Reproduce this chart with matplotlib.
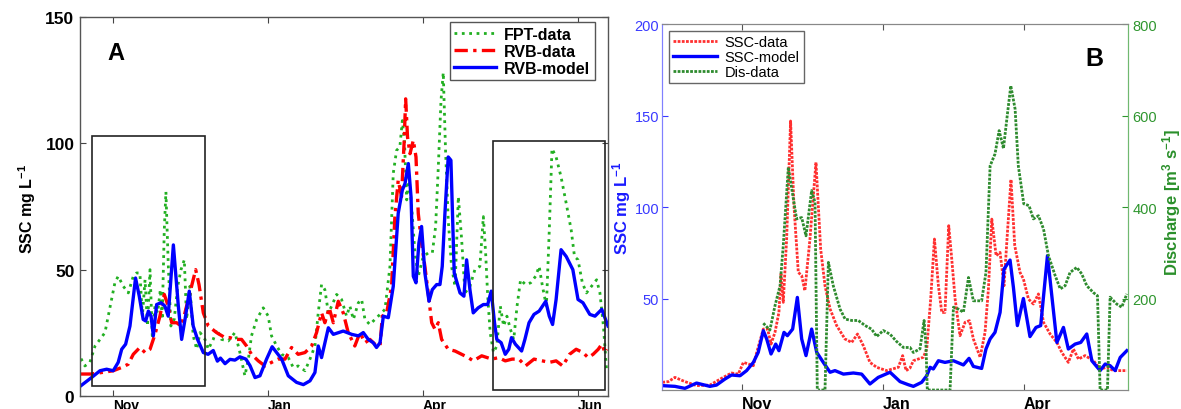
import matplotlib.pyplot as plt
from matplotlib.patches import Rectangle

plt.rcParams['font.family'] = ['Liberation Sans', 'DejaVu Sans']
plt.rcParams['mathtext.default'] = 'regular'

# ---- panel A: SSC (mg/L) against day of record ----
fpt_data = [(0.5, 14.8), (2.4, 11.9), (4.8, 13.3), (7.3, 19.8), (9.7, 22.4), (12.1, 25.1), (13.7, 31.6),
            (15.3, 38.2), (16.9, 44.8), (18.5, 47.4), (21, 43.4), (23.4, 40.8), (25.8, 47.4), (27.4, 48.7),
            (29, 48.7), (30.2, 31.6), (31.5, 46), (32.7, 27.7), (33.9, 50), (35, 23.8), (36.3, 35.6),
            (37.6, 32.9), (38.9, 42.1), (39.8, 30.3), (40.8, 65.7), (41.6, 80.8), (42.7, 52.6), (44, 27.7),
            (45.6, 30.3), (47.3, 43.4), (48.9, 50), (50.5, 53.9), (51.6, 30.3), (53.2, 43.4), (54.8, 23.8),
            (56.5, 18.5), (58.1, 25.1), (60.5, 22.4), (62.1, 18.5), (64.5, 22.4), (66.1, 26.4), (68.5, 22.4),
            (71.8, 21.8), (75, 25.1), (77.4, 17.2), (79.8, 8), (81.5, 14.6), (83, 23.8), (85.5, 30.3),
            (88.7, 34.9), (91.1, 31.6), (92.7, 23.8), (95.2, 19.8), (97.6, 16.5), (100.8, 15.2), (103.2, 11.3),
            (105.6, 11.9), (108.9, 10), (111.3, 14.6), (113.7, 19.8), (115.3, 32.9), (116.9, 44.1),
            (118.5, 42.1), (120.2, 32.9), (121.8, 35.6), (124.2, 40.2), (126.6, 38.2), (129, 31.6),
            (130.6, 35.6), (132.3, 30.3), (134.7, 36.9), (136.3, 38.2), (137.9, 30.3), (140.3, 28.3),
            (142.7, 30.3), (145.2, 32.3), (147.6, 34.3), (150, 51.3), (151.6, 88.1), (153.2, 97.2),
            (154.8, 98.6), (156, 109), (157, 101.2), (158.1, 77.6), (159.2, 86.7), (160.5, 74.9),
            (162.1, 56.6), (163.7, 47.4), (166.1, 55.2), (168.5, 56.6), (170.5, 56.6), (172.1, 67.1),
            (173.4, 90.7), (174.7, 116.9), (175.8, 128), (176.9, 97.2), (178.2, 69.7), (179.8, 51.3),
            (181.5, 43.4), (183.1, 78.9), (184.7, 61.8), (186.3, 40.8), (188.7, 43.4), (191.1, 50),
            (193.5, 51.3), (195.2, 71), (196.3, 56.6), (197.3, 39.5), (198.5, 25.1), (200.1, 17.2),
            (201.7, 19.8), (203.4, 35.6), (205, 27.7), (206.6, 31.6), (208.3, 26.4), (209.9, 22.4),
            (211.5, 35.6), (213.2, 46), (215.6, 44.1), (218.1, 44.8), (220.5, 47.4), (222.2, 51.3),
            (223.8, 43.4), (225.7, 35.6), (227.1, 65.7), (228.4, 97.9), (230.4, 94.6), (232.8, 86.7),
            (235.3, 76.2), (237.7, 65.7), (239.3, 55.2), (241, 53.9), (243.1, 44.8), (245.1, 40.8),
            (247.5, 43.4), (250, 46), (251.6, 40.8), (253.3, 27.7), (254.9, 9.3)]

rvb_data = [(0.5, 8.7), (5.6, 8.7), (10.5, 9.3), (16.1, 10), (20.2, 11.3), (23.4, 12.6), (25.8, 16.5),
            (29, 19.2), (31.5, 17.2), (33.9, 18.5), (36.3, 24.4), (38.7, 31.6), (40.8, 40.2), (42.7, 35.6),
            (44.4, 29), (46.8, 29), (48.9, 27.7), (50.8, 32.9), (53.2, 40.8), (56, 50), (57.6, 44.1),
            (59.7, 32.9), (62.1, 27.7), (66.1, 25.1), (70.2, 23.1), (72.6, 23.1), (75, 22.4), (78.2, 22.4),
            (80.6, 19.8), (83, 16.5), (86.3, 13.9), (89.5, 11.9), (92.7, 13.3), (95.8, 14.6), (99.2, 14.6),
            (102.4, 19.2), (105.6, 16.5), (108.9, 17.2), (112.1, 19.8), (114.5, 25.1), (116.9, 32.9),
            (118.5, 29), (120.6, 34.9), (122.6, 29), (125, 37.5), (127.4, 32.9), (129.8, 25.1), (133, 19.8),
            (135.5, 25.1), (137.9, 21.1), (140.3, 22.4), (142.7, 20.5), (145.2, 19.8), (146.3, 31.6),
            (148.4, 32.9), (150.8, 43.4), (152.4, 71), (154, 85.4), (155.6, 78.9), (156.9, 101.2),
            (157.6, 117.6), (158.5, 102.5), (159.7, 95.9), (161.3, 101.2), (162.6, 94.6), (163.7, 72.3),
            (165.3, 60.5), (166.9, 51.3), (168.5, 40.8), (170.2, 29), (171.8, 26.4), (173.4, 29), (175, 22.4),
            (178.2, 18.5), (181.5, 17.8), (184.7, 16.5), (187.9, 15.2), (190.3, 13.9), (194.4, 15.9),
            (199.3, 14.6), (202.6, 15.2), (205.8, 13.9), (209.1, 14.6), (212.4, 14.6), (215.6, 11.9),
            (219.7, 14.6), (223.8, 13.9), (227.1, 13.3), (230.4, 13.9), (233.6, 11.9), (236.9, 16.5),
            (240.1, 18.5), (243.4, 17.2), (245.9, 15.2), (248.3, 16.5), (250.8, 18.5), (252.5, 20.5),
            (254.1, 17.2), (255, 18.5)]

rvb_model = [(0.5, 4.1), (5.6, 7.3), (9.7, 10), (12.9, 10.6), (16.1, 10), (18.5, 13.3), (20.2, 18.5),
             (22.1, 20.5), (24.2, 27.7), (26.9, 46.7), (28.7, 39.5), (30.6, 30.3), (31.8, 29.7), (33.1, 33.6),
             (34.4, 31.6), (35.5, 23.8), (37.1, 36.2), (39.2, 36.9), (41.1, 35.6), (42.7, 31.6), (45.2, 59.8),
             (47.6, 35.6), (49.2, 22.4), (51.1, 31.6), (52.9, 41.5), (54.8, 27.7), (56.9, 22.4), (59.7, 17.2),
             (62, 16.5), (64.5, 18), (66.5, 13.8), (68, 15), (70.2, 12.8), (72.6, 14.5), (75, 14.2),
             (77.4, 15.5), (80.3, 14.6), (82.3, 12), (84.7, 7.3), (87.1, 8), (90.3, 14.6), (93, 19.5),
             (97.6, 14.6), (100.8, 8), (104.8, 5.4), (108.1, 4.5), (111.3, 6), (113.7, 9.3), (115.3, 19.8),
             (116.9, 15.2), (120.2, 27), (122.6, 24.4), (127.4, 25.7), (131.5, 24.4), (134.7, 23.8),
             (137.1, 25.1), (139.5, 22.4), (141.9, 21.1), (143.5, 19.2), (145.2, 21.1), (146.8, 31.6),
             (149.2, 31), (151.6, 43.4), (154, 72.3), (156, 81.5), (157.3, 84.1), (158.9, 92), (160.2, 78.9),
             (161.3, 47.4), (162.6, 44.8), (164, 60.5), (165.3, 67.1), (166.9, 48.7), (168.9, 37.5),
             (170.5, 42.1), (172.6, 44.1), (174.2, 44.1), (175.3, 51.3), (176.6, 72.3), (178.2, 94.6),
             (179.5, 93.3), (181.1, 48.7), (183.9, 40.8), (185.8, 39.5), (187.1, 53.9), (188.7, 42.1),
             (190.3, 32.9), (192.7, 34.9), (195.2, 36.2), (197.3, 36.2), (199, 41.5), (200.6, 29),
             (201.7, 22.4), (203.8, 21.1), (205.8, 16.5), (207.5, 18.5), (208.8, 23.1), (210.7, 20.5),
             (213.7, 17.8), (215.3, 22.4), (217.3, 29), (219.7, 32.3), (222.2, 33.6), (225.4, 37.5),
             (227.1, 31.6), (228.7, 28.3), (230.4, 38.2), (232.8, 57.9), (235.3, 55.2), (238.5, 50),
             (241, 38.2), (243.4, 36.9), (246.7, 32.3), (249.2, 31.6), (252.5, 34.3), (255.5, 27.7)]

a_ticks = [16, 91, 166, 241]
a_ticklabels = ['Nov', 'Jan', 'Apr', 'Jun']
# highlighted periods: (start day, end day, low, high)
a_boxes = [(6, 60.5, 4.1, 102.9), (200, 254, 2.5, 101)]

# ---- panel B: SSC (left axis) and discharge (right axis) ----
ssc_data = [(0.2, 4.2), (3.4, 4.6), (6.9, 6.9), (12.2, 4.6), (18.4, 2.4), (25.5, 2.7), (31.7, 6.4), (37, 9.3),
            (40.6, 8.7), (43.3, 15.1), (46, 14.2), (48.6, 13.3), (50.4, 20.6), (53.9, 33.3), (56.2, 33.3),
            (58, 25.1), (60.1, 31.5), (62.2, 42.4), (63.3, 63.4), (64.5, 47.9), (66.3, 82.5), (68.4, 147),
            (70.2, 100.7), (72.5, 64.3), (74.3, 62.5), (76, 54.3), (78.7, 82.5), (81.9, 124.4), (84.4, 77),
            (86.7, 57), (89.4, 44.3), (92.9, 35.2), (97.3, 27.9), (100.9, 26), (104, 30.6), (107.1, 24.2),
            (110.6, 15.1), (114.2, 12.4), (119.5, 10.6), (125.7, 12.4), (128, 18.8), (129.8, 10.6), (131.9, 12),
            (133.7, 16), (139, 17.9), (140.8, 22.4), (142.9, 49.7), (144.9, 82.5), (147, 57), (148.8, 42.4),
            (150.5, 42.4), (152.5, 89.8), (154.1, 71.6), (155.9, 49.7), (158.5, 29.7), (161.2, 37),
            (163.5, 37.9), (165.6, 27.9), (169.2, 17.9), (171.8, 31.5), (173.6, 55.2), (175.4, 93.4),
            (177.7, 73.4), (179.8, 75.2), (181.9, 57), (183.6, 84.3), (185.6, 115), (187.6, 78.9),
            (190.4, 64.3), (192.2, 60.7), (194.9, 49.7), (197.5, 47), (200.2, 52.5), (202.9, 37),
            (206.4, 30.6), (210, 26), (212.6, 20.6), (216.1, 15.1), (218.8, 22.4), (221.5, 16.9), (225, 18.8),
            (229.5, 16), (233, 11.5), (236.6, 12.4), (240.1, 10.6), (247.2, 10.6)]

ssc_model = [(0.2, 2.4), (6.9, 2.0), (12.2, 0.9), (18.4, 3.8), (25.5, 2.0), (29, 2.7), (33.5, 6), (37, 8.2),
             (41.5, 7.8), (45, 10.6), (48.6, 15.1), (51.2, 20.6), (53.9, 32.4), (55.7, 27.9), (58, 19.7),
             (60.5, 25.1), (62.2, 21.5), (64.9, 31.5), (66.7, 29.7), (69.5, 33.3), (72, 50.6), (74.3, 27.9),
             (76.6, 18.8), (79.6, 33.3), (82.3, 20.6), (85.8, 15.1), (89.4, 9.7), (92, 10.6), (96.5, 8.7),
             (101.8, 9.3), (106.2, 8.7), (110.6, 3.3), (115, 6.9), (121.3, 9.7), (126.6, 4.6), (131, 2.9),
             (133.7, 2), (138.1, 4.2), (140.8, 7.8), (142.6, 12.4), (144.3, 11.5), (147, 16), (150.5, 15.1),
             (155, 16), (160.3, 13.7), (163.3, 17.3), (165.6, 12.9), (170, 11.8), (172.3, 22.4), (174.5, 27.9),
             (177.1, 31.5), (179.8, 42.4), (181.9, 66.1), (185.1, 71), (186.9, 56), (189, 35.2), (192.2, 50),
             (195.7, 29.2), (198.9, 34.2), (201.4, 35.2), (205, 73.4), (210, 26), (213.5, 34.2), (216.1, 22.4),
             (219.7, 25.1), (222.7, 26), (225.9, 30.6), (228.6, 16), (233, 10.6), (235.7, 14.2), (238.3, 13.3),
             (241, 10.6), (243.7, 17.8), (247.2, 21.5)]

dis_data = [(53.9, 146), (57.4, 131), (60.1, 184), (62.8, 228), (64.5, 315), (67.2, 487), (69.9, 417),
            (71.6, 374), (74.3, 377), (76.6, 337), (79.6, 436), (81.4, 410), (82.6, 0), (86.7, 0), (88.5, 279),
            (91.1, 228), (94.7, 177), (97.4, 155), (100.9, 152), (104.4, 152), (108, 141), (111.5, 133),
            (114.2, 117), (117.7, 130), (121.3, 122), (124.8, 106), (128.4, 93), (131.9, 93), (133.7, 82),
            (137.2, 90), (139.4, 152), (140.4, 97), (141.1, 0), (153.2, 0), (155, 181), (157.6, 177),
            (160.3, 170), (163, 246), (165.6, 195), (170, 195), (172.3, 257), (174.5, 490), (177.1, 516),
            (179.3, 567), (181.6, 528), (183.7, 603), (185.5, 665), (187.8, 614), (189.5, 490), (192.4, 407),
            (195.2, 403), (197.5, 374), (200.2, 381), (202.9, 352), (205.5, 294), (209.1, 250), (211.8, 221),
            (214.4, 228), (217, 257), (220.6, 268), (223.2, 254), (225.9, 228), (229.4, 213), (231.6, 206),
            (233, 0), (236.9, 0), (238.3, 203), (241.8, 188), (244.5, 181), (247.2, 210)]

b_ticks = [42.5, 117.5, 192.5]
b_ticklabels = ['Nov', 'Jan', 'Apr']


def unzip(pairs):
    return [p[0] for p in pairs], [p[1] for p in pairs]


fig = plt.figure(figsize=(11.81, 4.10), dpi=100)

# ---------------- panel A ----------------
axA = fig.add_axes([0.0677, 0.0317, 0.4471, 0.9244])
x, y = unzip(fpt_data)
axA.plot(x, y, color='#22b022', lw=2, ls=':', label='FPT-data')
x, y = unzip(rvb_data)
axA.plot(x, y, color='#ff0000', lw=2.4, ls=(0, (4, 1.6, 1, 1.6)), label='RVB-data')
x, y = unzip(rvb_model)
axA.plot(x, y, color='#0000ff', lw=2.4, label='RVB-model')

for x0, x1, y0, y1 in a_boxes:
    axA.add_patch(Rectangle((x0, y0), x1 - x0, y1 - y0, fill=False, ec='#222222', lw=1.2, zorder=3))

axA.set_xlim(0, 255.5)
axA.set_ylim(0, 150)
axA.set_xticks(a_ticks)
axA.set_xticklabels(a_ticklabels, fontsize=10, fontweight='bold', ha='left')
axA.set_yticks([0, 50, 100, 150])
axA.set_yticklabels(['0', '50', '100', '150'], fontsize=12.5, fontweight='bold')
axA.tick_params(direction='in', length=4, top=True, right=True, color='#444444')
axA.tick_params(axis='x', pad=1.5)
axA.tick_params(axis='y', pad=4)
for s in axA.spines.values():
    s.set_color('#555555')
    s.set_linewidth(1)
axA.text(17.4, 135.8, 'A', fontsize=17, fontweight='bold', ha='center', va='center')
legA = axA.legend(loc='upper right', bbox_to_anchor=(0.975, 0.987), borderaxespad=0,
                  prop={'weight': 'bold', 'size': 11.5},
                  handlelength=2.6, labelspacing=0.12, borderpad=0.3, handletextpad=0.5,
                  fancybox=False, framealpha=1, edgecolor='#555555')
legA.get_frame().set_linewidth(1)
fig.text(0.0229, 0.49, r'SSC mg L$^{-1}$', rotation=90, ha='center', va='center',
         fontsize=11.5, fontweight='bold')

# ---------------- panel B ----------------
blue_ax = '#3a3aff'
green_ax = '#2f962f'
axB = fig.add_axes([0.5605, 0.0463, 0.3949, 0.8927])
x, y = unzip(ssc_data)
lr, = axB.plot(x, y, color='#ff3030', lw=2, ls=(0, (1, 0.5)), label='SSC-data')
x, y = unzip(ssc_model)
lb, = axB.plot(x, y, color='#0000ff', lw=2.4, label='SSC-model')
axB.set_xlim(0, 248)
axB.set_ylim(0, 200)
axB.set_yticks([50, 100, 150, 200])
axB.set_yticklabels(['50', '100', '150', '200'], fontsize=10.5, color=blue_ax)
axB.set_xticks(b_ticks)
axB.set_xticklabels(b_ticklabels, fontsize=11.5, fontweight='bold', ha='left')
axB.tick_params(direction='in', length=4, top=True)
axB.tick_params(axis='x', pad=4, color='#555555')
axB.tick_params(axis='y', pad=2, color=blue_ax)

ax2 = axB.twinx()
x, y = unzip(dis_data)
lg, = ax2.plot(x, y, color='#2e8b2e', lw=2, ls=(0, (1, 0.5)), label='Dis-data')
ax2.set_ylim(0, 800)
ax2.set_yticks([200, 400, 600, 800])
ax2.set_yticklabels(['200', '400', '600', '800'], fontsize=10.5, color=green_ax)
ax2.tick_params(direction='in', length=4, pad=3, color=green_ax)

for a in (axB, ax2):
    a.spines['top'].set_color('#888888')
    a.spines['bottom'].set_color('#888888')
    a.spines['left'].set_color('#8080ff')
    a.spines['right'].set_color('#70b870')

ax2.text(230, 725, 'B', fontsize=18, fontweight='bold', ha='center', va='center')
legB = ax2.legend(handles=[lr, lb, lg], loc='upper left', bbox_to_anchor=(0.015, 0.981), borderaxespad=0,
                  prop={'size': 10.5}, handlelength=3.0, labelspacing=0.05, borderpad=0.3,
                  handletextpad=0.5, fancybox=False, framealpha=1, edgecolor='#666666')
legB.get_frame().set_linewidth(1)

fig.text(0.526, 0.493, r'SSC mg L$^{-1}$', rotation=90, ha='center', va='center',
         fontsize=12, fontweight='bold', color='#1a1aff')
fig.text(0.9924, 0.505, r'Discharge [m$^{3}$ s$^{-1}$]', rotation=90, ha='center', va='center',
         fontsize=12, fontweight='bold', color='#2a8f2a')

fig.savefig('out.png', dpi=100)
